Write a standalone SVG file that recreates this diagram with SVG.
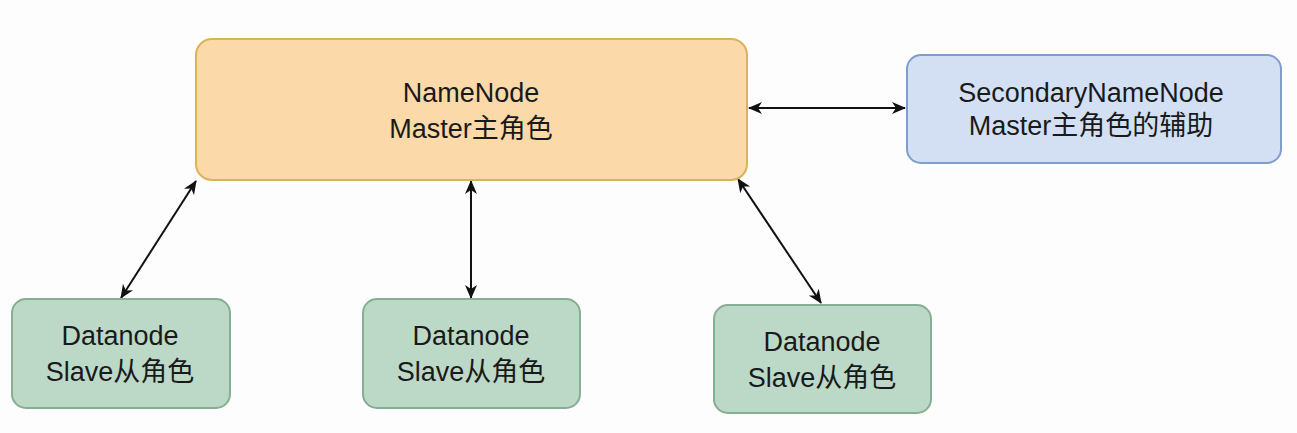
<svg xmlns="http://www.w3.org/2000/svg" width="1297" height="433" viewBox="0 0 1297 433">
<defs>
<marker id="ah" viewBox="0 0 14 14" refX="13" refY="7" markerWidth="14" markerHeight="14" markerUnits="userSpaceOnUse" orient="auto-start-reverse">
<path d="M0,1 L14,7 L0,13 L4,7 Z" fill="#111"/>
</marker>
<style>
.t{font-family:"Liberation Sans","Noto Sans CJK SC",sans-serif;fill:#1a1a1a;text-anchor:middle;font-size:27px}
.orange{fill:#fcd9a9;stroke:#d9b35a;stroke-width:2}
.blue{fill:#d3e0f4;stroke:#7f9dcc;stroke-width:2}
.green{fill:#bcd9c7;stroke:#86ae93;stroke-width:2}
.c{stroke:#111;stroke-width:2;fill:none;marker-start:url(#ah);marker-end:url(#ah)}
</style>
</defs>
<rect width="1297" height="433" fill="#fdfdfd"/>
<g id="connectors">
<line class="c" x1="749" y1="108" x2="905" y2="108"/>
<line class="c" x1="196" y1="181" x2="121" y2="298"/>
<line class="c" x1="471" y1="181" x2="471" y2="298"/>
<line class="c" x1="738" y1="179" x2="821" y2="303"/>
</g>
<g id="namenode">
<rect class="orange" x="196" y="39" width="551" height="141" rx="16"/>
<text class="t" x="471" y="102">NameNode</text>
<text class="t" x="471" y="138">Master主角色</text>
</g>
<g id="secondary">
<rect class="blue" x="907" y="55" width="374" height="108" rx="14"/>
<text class="t" x="1091" y="102">SecondaryNameNode</text>
<text class="t" x="1091" y="135">Master主角色的辅助</text>
</g>
<g id="datanode1">
<rect class="green" x="12" y="299" width="218" height="109" rx="14"/>
<text class="t" x="120" y="345">Datanode</text>
<text class="t" x="120" y="381">Slave从角色</text>
</g>
<g id="datanode2">
<rect class="green" x="363" y="299" width="217" height="109" rx="14"/>
<text class="t" x="471" y="345">Datanode</text>
<text class="t" x="471" y="381">Slave从角色</text>
</g>
<g id="datanode3">
<rect class="green" x="714" y="305" width="217" height="108" rx="14"/>
<text class="t" x="822" y="351">Datanode</text>
<text class="t" x="822" y="387">Slave从角色</text>
</g>
</svg>
